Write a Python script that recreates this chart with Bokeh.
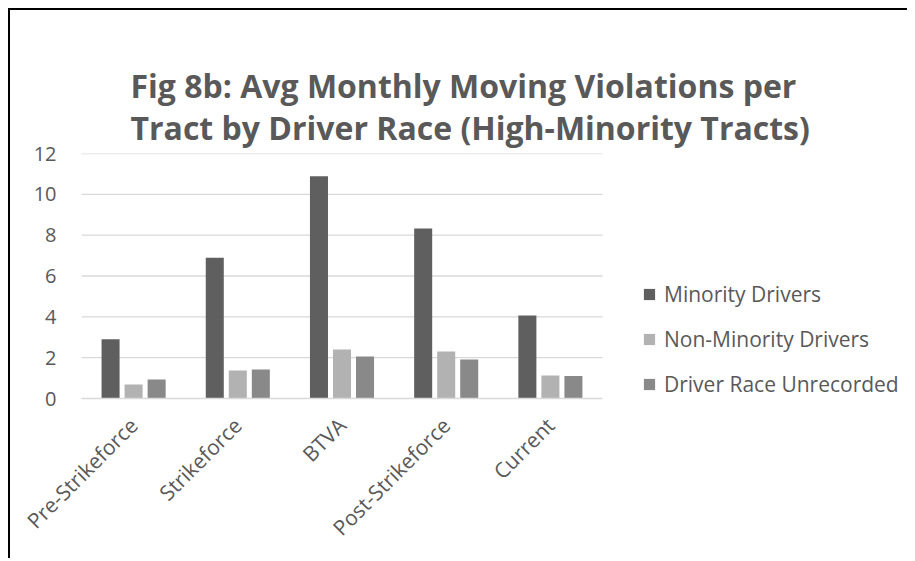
from bokeh.plotting import figure
from bokeh.models import Range1d, ColumnDataSource, Legend, LegendItem
from bokeh.embed import file_html
from bokeh.resources import INLINE
import math

categories = ["Pre-Strikeforce", "Strikeforce", "BTVA", "Post-Strikeforce", "Current"]
minority = [2.9, 6.9, 10.88, 8.33, 4.07]
non_minority = [0.69, 1.37, 2.4, 2.3, 1.13]
unrecorded = [0.93, 1.42, 2.06, 1.91, 1.1]
series_names = ["Minority Drivers", "Non-Minority Drivers", "Driver Race Unrecorded"]
y_ticks = [0, 2, 4, 6, 8, 10, 12]
title_lines = ["Fig 8b: Avg Monthly Moving Violations per",
               "Tract by Driver Race (High-Minority Tracts)"]

colors = ["#5f5f5f", "#b2b2b2", "#898989"]
text_color = "#595959"
grid_color = "#d9d9d9"
font = "Open Sans"

# layout constants (pixels)
W, H = 899, 550
LEFT, RIGHT, TOP, BOTTOM = 71, 0, 143, 162
CAT_PX = 104.2
frame_w = W - LEFT - RIGHT
n = len(categories)
x_lo = -0.5
x_hi = x_lo + frame_w / CAT_PX

idx = list(range(n))
src = ColumnDataSource(dict(i=idx, m=minority, n=non_minority, u=unrecorded))

p = figure(x_range=Range1d(x_lo, x_hi), y_range=Range1d(y_ticks[0], y_ticks[-1]),
           width=W, height=H, output_backend="svg", toolbar_location=None,
           min_border_left=LEFT, min_border_right=RIGHT, min_border_top=TOP,
           min_border_bottom=BOTTOM)

# horizontal gridlines limited to the category area
p.segment(x0=[x_lo] * (len(y_ticks) - 1), x1=[n - 0.5] * (len(y_ticks) - 1),
          y0=y_ticks[1:], y1=y_ticks[1:], line_color=grid_color, line_width=1.3)

renderers = []
offsets = [-0.221, 0.0, 0.221]
for col, off, c in zip(["m", "n", "u"], offsets, colors):
    xs = [i + off for i in idx]
    s = ColumnDataSource(dict(x=xs, top=src.data[col]))
    r = p.vbar(x="x", top="top", width=0.173, source=s, fill_color=c, line_color=None)
    renderers.append(r)

p.outline_line_color = None
p.background_fill_color = "white"
p.border_fill_color = "white"
p.xgrid.visible = False
p.ygrid.visible = False

p.yaxis.ticker = y_ticks
p.yaxis.axis_line_color = None
p.yaxis.major_tick_line_color = None
p.yaxis.minor_tick_line_color = None
p.yaxis.major_label_text_font = font
p.yaxis.major_label_text_font_size = "20px"
p.yaxis.major_label_text_color = text_color
p.yaxis.major_label_standoff = 19

p.xaxis.ticker = idx
p.xaxis.major_label_overrides = {i: c for i, c in zip(idx, categories)}
p.xaxis.bounds = (x_lo, n - 0.5)
p.xaxis.axis_line_color = grid_color
p.xaxis.axis_line_width = 1.3
p.xaxis.major_tick_line_color = None
p.xaxis.minor_tick_line_color = None
p.xaxis.major_label_orientation = math.pi / 4
p.xaxis.major_label_text_font = font
p.xaxis.major_label_text_font_size = "21px"
p.xaxis.major_label_text_color = text_color
p.xaxis.major_label_standoff = 17

p.title.text = "\n".join(title_lines)
p.title.align = "left"
p.title.offset = 49
p.title.text_font = font
p.title.text_font_style = "bold"
p.title.text_font_size = "32px"
p.title.text_color = text_color
p.title.text_line_height = 0.97
p.title.standoff = 9

legend = Legend(items=[LegendItem(label=nm, renderers=[r]) for nm, r in zip(series_names, renderers)],
                location=(561, 0), orientation="vertical",
                label_text_font=font, label_text_font_size="21px", label_text_color=text_color,
                glyph_width=14, glyph_height=14, label_standoff=8, label_height=20,
                spacing=17, padding=0, margin=0, border_line_color=None,
                background_fill_alpha=0)
p.add_layout(legend, "center")

p.margin = (8, 0, 0, 8)
p.styles = {"border-left": "2px solid black", "border-top": "2px solid black"}

open("out.html", "w").write(file_html(p, INLINE))
